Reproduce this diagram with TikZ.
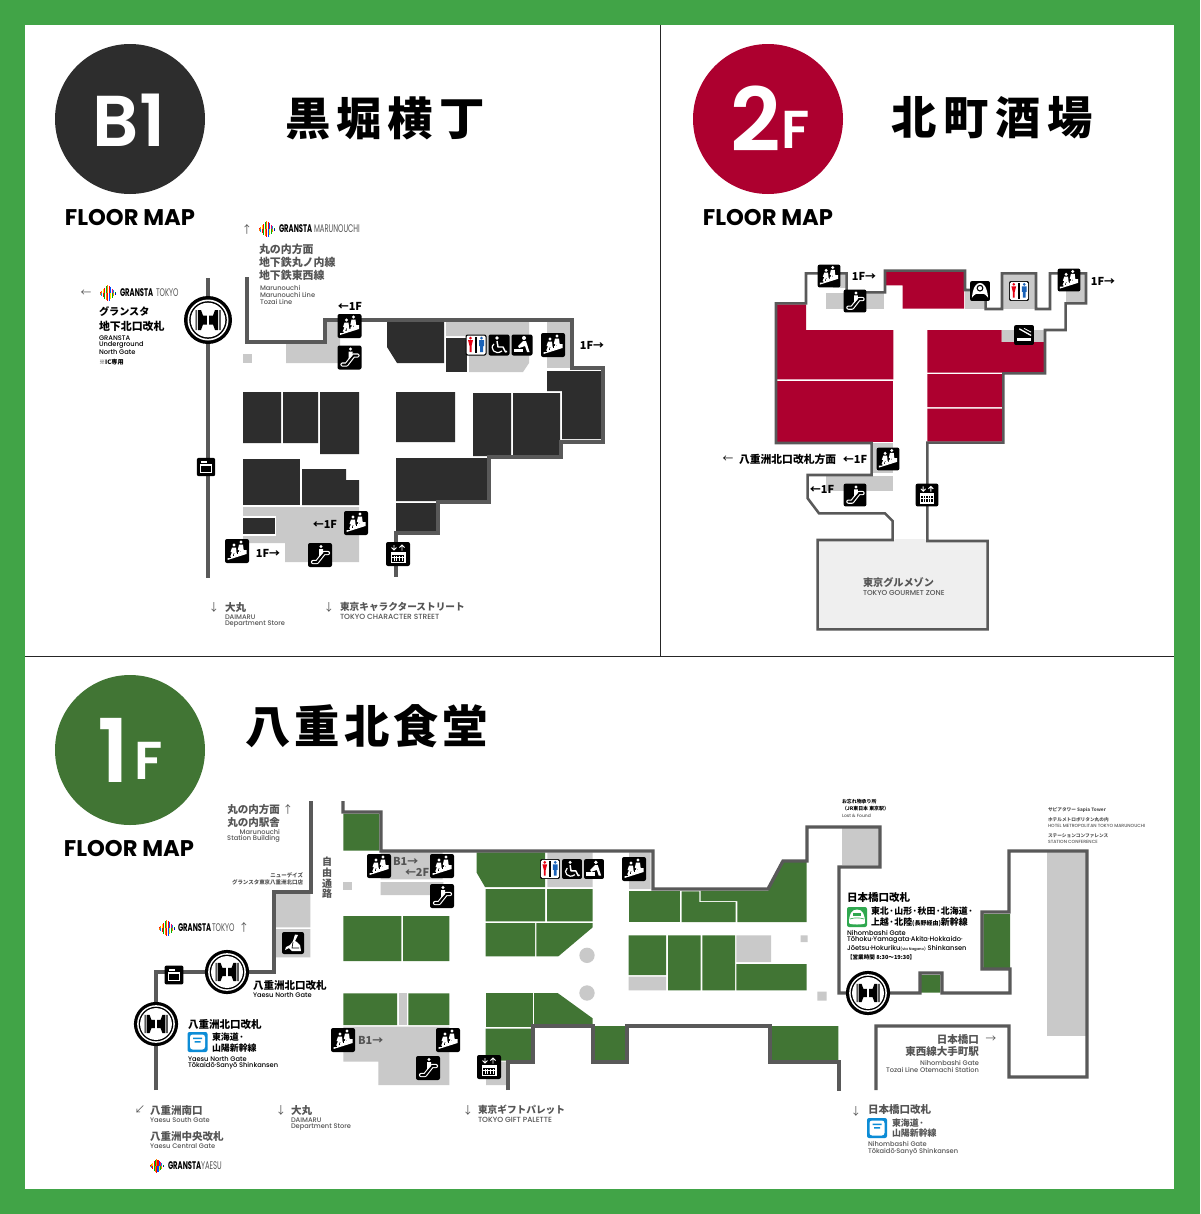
\documentclass[tikz,border=0pt]{standalone}
\usepackage{fontspec}
\setmainfont{Noto Sans CJK JP}
\newfontfamily\jp{Noto Sans CJK JP}
\newfontfamily\pop{Poppins}
\newfontfamily\popm{Poppins Medium}
\newfontfamily\pops{Poppins SemiBold}
\definecolor{bggreen}{HTML}{41A447}
\definecolor{gshop}{HTML}{417534}
\definecolor{rshop}{HTML}{AD002F}
\definecolor{dshop}{HTML}{2D2D2D}
\definecolor{gry}{HTML}{C9C9C9}
\definecolor{wallc}{HTML}{595959}
\definecolor{txtg}{HTML}{555555}
\definecolor{wcred}{HTML}{E60012}
\definecolor{wcblue}{HTML}{1A62B8}
\definecolor{trgreen}{HTML}{2FA84F}
\definecolor{trblue}{HTML}{0C8CD6}
\tikzset{
 wall/.style={draw=wallc,line width=2.5pt,miter limit=4},
 jl/.style={anchor=west,inner sep=0pt,outer sep=0pt,font=\jp\bfseries\fontsize{7.9}{7.9}\selectfont,text=black},
 jg/.style={jl,text=txtg},
 jr/.style={jl,anchor=east,text=txtg},
 kn/.style={jl,font=\jp\bfseries\fontsize{7.25}{7.25}\selectfont},
 kng/.style={kn,text=txtg},
 mid/.style={jl,font=\jp\bfseries\fontsize{6.7}{6.7}\selectfont},
 midg/.style={mid,text=txtg},
 sl/.style={anchor=west,inner sep=0pt,outer sep=0pt,font=\popm\fontsize{5}{5}\selectfont,text=black},
 sg/.style={sl,text=txtg},
 sr/.style={sl,anchor=east,text=txtg},
 caps/.style={sg,font=\popm\fontsize{5.6}{5.6}\selectfont},
 tn/.style={anchor=west,inner sep=0pt,outer sep=0pt,font=\jp\bfseries\fontsize{3.7}{3.7}\selectfont,text=black},
 tg/.style={tn,text=txtg},
 tl/.style={tn,text=txtg,font=\popm\fontsize{3.4}{3.4}\selectfont},
 lab/.style={anchor=center,inner sep=0pt,outer sep=0pt,font=\jp\bfseries\fontsize{8.2}{8.2}\selectfont,text=black},
 labg/.style={lab,text=txtg},
 arw/.style={anchor=center,inner sep=0pt,outer sep=0pt,font=\jp\fontsize{8}{8}\selectfont,text=txtg},
 ttl/.style={anchor=center,inner sep=0pt,outer sep=0pt,font=\jp\bfseries\fontsize{34}{34}\selectfont,text=black},
 fm/.style={anchor=center,inner sep=0pt,outer sep=0pt,font=\pop\bfseries\fontsize{17}{17}\selectfont,text=black},
 big/.style={anchor=center,inner sep=0pt,outer sep=0pt,text=white,font=\pops},
 gbold/.style={anchor=west,inner sep=0pt,outer sep=0pt,font=\pop\bfseries\fontsize{8.3}{8.3}\selectfont,text=black,xscale=.62},
 glite/.style={anchor=west,inner sep=0pt,outer sep=0pt,font=\pop\fontsize{8.3}{8.3}\selectfont,text=txtg,xscale=.62},
 iconbg/.style={fill=black,rounded corners=1.5pt},
 stairicon/.pic={
  \fill[iconbg] (-12,-12) rectangle (12,12);
  \fill[white] (-9.5,9) -- (-9.5,7) -- (-6,7) -- (-6,5) -- (-3,5) -- (-3,3) -- (1,3) -- (1,1) -- (4,1) -- (4,-1) -- (9.5,-1) -- (9.5,3) -- cycle;
  \fill[white] (-3,-6) circle (1.7) (4,-9) circle (1.7);
  \fill[white] (-5,-3.5) -- (-1,-3.5) -- (-.5,1) -- (.3,5) -- (-1.8,5) -- (-3,1.5) -- (-4.5,5.5) -- (-6.8,5.5) -- (-5,1) -- (-6.5,1) -- cycle;
  \fill[white] (2,-6.5) -- (6,-6.5) -- (6.5,-2) -- (7.5,2) -- (5.5,2) -- (4,-1) -- (3,3) -- (1,3) -- (2.5,-1) -- (.8,-1) -- cycle;
 },
 escicon/.pic={
  \fill[iconbg] (-12,-12) rectangle (12,12);
  \draw[white,line width=3.2pt,line cap=round,line join=round] (-7,7) -- (-3,7) -- (4,-2) -- (8,-2);
  \draw[black,line width=1.5pt,line cap=round,line join=round] (-7,7) -- (-3,7) -- (4,-2) -- (8,-2);
  \fill[white] (1,-8.5) circle (1.7);
  \fill[white] (-1,-6) -- (3,-6) -- (3,-2) -- (-1,2.5) -- cycle;
 },
 elevicon/.pic={
  \fill[iconbg] (-12,-12) rectangle (12,12);
  \draw[white,line width=.7pt] (-4,-9) -- (-4,-4) (-6.5,-6.5) -- (-4,-4) -- (-1.5,-6.5);
  \draw[white,line width=.7pt] (4,-3.5) -- (4,-9) (1.5,-6.5) -- (4,-9) -- (6.5,-6.5);
  \fill[white] (-7.5,-2.5) rectangle (7.5,9);
  \fill[black] (-6,1) rectangle (6,7.5);
  \foreach \q in {-4,-1.3,1.3,4}{\draw[white,line width=.7pt] (\q,1.5) -- (\q,7);}
  \draw[white,line width=.5pt] (-6,3) -- (6,3);
 },
 lockicon/.pic={
  \fill[iconbg] (-10.5,-10.5) rectangle (10.5,10.5);
  \fill[white] (-6,-7) rectangle (1,-5);
  \fill[white] (-7,-3.5) rectangle (7,7);
  \fill[black] (-5.5,-1) rectangle (5.5,5.5);
  \fill[white] (-2,-3.5) rectangle (2,-2);
 },
 wcicon/.pic={
  \fill[black,rounded corners=1.5pt] (-10.5,-10.5) rectangle (10.5,10.5);
  \fill[white,rounded corners=1pt] (-9.5,-9.5) rectangle (9.5,9.5);
  \fill[wcred] (-5.5,-7) circle (1.5) (-8,-5) -- (-3,-5) -- (-4.5,1) -- (-4.5,7) -- (-6.5,7) -- (-6.5,1) -- cycle;
  \fill[wcblue] (5.5,-7) circle (1.5) (3,-5) rectangle (8,1) (4,1) rectangle (7,7);
  \fill[black] (-.6,-8) rectangle (.6,8);
 },
 wheelicon/.pic={
  \fill[iconbg] (-10.5,-10.5) rectangle (10.5,10.5);
  \fill[white] (-2,-7) circle (1.8);
  \draw[white,line width=1.1pt,line join=round] (-2,-4) -- (-1,2) -- (4,2) -- (6.5,7) -- (8,6.3);
  \draw[white,line width=.9pt] (-5,-1) .. controls (-10,3) and (-4,11) .. (3,6);
 },
 babyicon/.pic={
  \fill[iconbg] (-10.5,-10.5) rectangle (10.5,10.5);
  \fill[white] (2,-7) circle (2);
  \fill[white] (1,-4) -- (4,-4) -- (7.5,7) -- (5,7) -- (3,1) -- (-3,3) -- (-4,1) -- cycle;
  \fill[white] (-8,3.5) rectangle (1,7);
 },
 smokeicon/.pic={
  \fill[iconbg] (-10.5,-10.5) rectangle (10.5,10.5);
  \fill[white] (-7.5,3) rectangle (7.5,6);
  \draw[white,line width=1pt] (-5,-6.5) -- (7.5,.5);
  \draw[white,line width=.6pt] (0,-7) -- (7.5,-3);
 },
 nurseicon/.pic={
  \fill[iconbg] (-10.5,-10.5) rectangle (10.5,10.5);
  \fill[white] (-8.5,7) .. controls (-7.5,-4) and (-4,-8.5) .. (0,-8.5) .. controls (4,-8.5) and (7.5,-4) .. (8.5,7) .. controls (5,2) and (3,3) .. (0,3) .. controls (-3,3) and (-5,2) .. (-8.5,7) -- cycle;
  \fill[black] (0,-3) circle (3.6);
  \fill[white] (0,-3) circle (2.2);
 },
 chairicon/.pic={
  \fill[iconbg] (-11,-11) rectangle (11,11);
  \fill[white] (2,-8.5) -- (5,-8) -- (2,-2) -- (4,-1) -- (7,2) -- (8,8) -- (-1,8) -- (-4,5) -- (-8,7) -- (-7,4) -- (-3,2) -- (0,-2) -- cycle;
  \draw[black,line width=.5pt] (0,-1) -- (-1,5) -- (6,5);
 },
 trblueicon/.pic={
  \fill[trblue,rounded corners=1.5pt] (-10,-10) rectangle (10,10);
  \fill[white,rounded corners=2pt] (-7.5,-7.5) rectangle (7.5,7.5);
  \fill[trblue] (-4.5,-4.5) rectangle (4.5,-3) (-3,-1) rectangle (3,.5);
 },
 trgreenicon/.pic={
  \fill[trgreen,rounded corners=1.5pt] (-10,-10) rectangle (10,10);
  \fill[white] (-8,6) .. controls (-8,-2) and (-6,-7.5) .. (0,-7.5) .. controls (6,-7.5) and (8,-2) .. (8,6) .. controls (8,8) and (-8,8) .. (-8,6) -- cycle;
  \fill[trgreen] (-4,-4) rectangle (4,-1.5);
  \draw[trgreen,line width=.5pt] (-7,2) .. controls (-3,.5) and (3,.5) .. (7,2);
 },
 gateicon/.pic={
  \fill[black] (0,0) circle (24);
  \fill[white] (0,0) circle (20.5);
  \fill[black] (0,0) circle (18.8);
  \fill[white] (0,0) circle (17.3);
  \fill[black] (-12.5,-10) rectangle (-11.3,10) (11.3,-10) rectangle (12.5,10);
  \fill[black] (-10.2,-10) -- (-7,-10) -- (-5,-4.5) -- (5,-4.5) -- (7,-10) -- (10.2,-10) -- (10.2,10) -- (7,10) -- (5,4.5) -- (-5,4.5) -- (-7,10) -- (-10.2,10) -- cycle;
  \fill[white] (-.9,-5) rectangle (.9,5);
 },
 logoicon/.pic={
  \foreach \q/\h/\c/\d in {-8.5/1.5/red/orange,-7/2.5/orange/cyan!80!blue,-5.5/4/yellow!90!orange/red,-4/5.5/red/green!70!black,-2.5/7/green!70!black/orange,-1/8/orange/red,.5/7.5/red/blue!70!cyan,2/6/blue!70!cyan/yellow!90!orange,3.5/4.5/magenta!70!red/green!70!black,5/3/cyan!80!blue/orange,6.5/1.5/green!60!black/blue!80!black}{
   \fill[\c] (\q,-\h) rectangle (\q+1.3,.4);
   \fill[\d] (\q,.4) rectangle (\q+1.3,\h);}
 }
}
\begin{document}
\begin{tikzpicture}[x=.75pt,y=-.75pt]
\useasboundingbox (0,0) rectangle (1200,1214);
\fill[bggreen] (0,0) rectangle (1200,1214);
\fill[white] (25,25) rectangle (1174,1189);
\draw[black!85,line width=.7pt] (660,25) -- (660,656) (25,656) -- (1174,656);
% ===== headers
\fill[dshop] (130,119) circle (75);
\fill[rshop] (768,119) circle (75);
\fill[gshop] (130,750) circle (75);
\node[big,font=\pops\fontsize{54}{54}\selectfont] (hb) at (129,120) {B1};
\node[big,font=\pops\fontsize{66}{66}\selectfont] (h2) at (756,119) {2};
\node[big,font=\pops\fontsize{40}{40}\selectfont] (h2f) at (796,130) {F};
\node[big,font=\pops\fontsize{66}{66}\selectfont] (h1) at (113,750) {1};
\node[big,font=\pops\fontsize{40}{40}\selectfont] (h1f) at (149,761) {F};
\node[fm] (fm1) at (130,218) {FLOOR MAP};
\node[fm] (fm2) at (768,218) {FLOOR MAP};
\node[fm] (fm3) at (129,848) {FLOOR MAP};
\node[ttl] (t1) at (385,118) {黒\hspace{4.5pt}堀\hspace{4.5pt}横\hspace{4.5pt}丁};
\node[ttl] (t2) at (992,118) {北\hspace{5pt}町\hspace{5pt}酒\hspace{5pt}場};
\node[ttl] (t3) at (367,726) {八\hspace{3pt}重\hspace{3pt}北\hspace{3pt}食\hspace{3pt}堂};
% ===== B1 plan
\fill[gry] (243,354) rectangle (252,363);
\fill[gry] (286,344) -- (327,344) -- (327,322) -- (340,322) -- (340,363) -- (286,363) -- cycle;
\fill[gry] (243,507) -- (359,507) -- (359,562) -- (285,562) -- (285,543) -- (243,543) -- cycle;
\fill[gry] (446,322) -- (529,322) -- (529,363) -- (523,372) -- (469,372) -- (469,336) -- (446,336) -- cycle;
\fill[gry] (547,322) rectangle (570,368);
\fill[dshop] (243,392) rectangle (281,443) (283,392) rectangle (318,443) (320,392) rectangle (359,454);
\fill[dshop] (243,459) rectangle (300,505);
\fill[dshop] (302,469) -- (346,469) -- (346,480) -- (359,480) -- (359,505) -- (302,505) -- cycle;
\fill[white] (243,516) rectangle (276,536);
\fill[dshop] (243,518) rectangle (275,534);
\fill[dshop] (387,322) -- (444,322) -- (444,363) -- (397,363) -- (387,347) -- cycle;
\fill[dshop] (446,338) rectangle (467,372);
\fill[dshop] (547,371) -- (602,371) -- (602,439) -- (562,439) -- (562,391) -- (547,391) -- cycle;
\fill[dshop] (396,392) rectangle (455,442) (473,393) rectangle (511,456) (513,393) rectangle (560,456);
\fill[dshop] (396,458) rectangle (488,501) (396,503) rectangle (437,532);
\draw[wall] (247,277) -- (247,342) -- (325,342) -- (325,320) -- (572,320) -- (572,368) -- (603,368) -- (603,442) -- (561,442) -- (561,457) -- (489,457) -- (489,502) -- (438,502) -- (438,533) -- (396,533) -- (396,577);
\draw[wall] (208,278) -- (208,578);
\pic at (208,320) {gateicon};
\pic[scale=.875] at (206,467) {lockicon};
\pic at (349.5,326) {stairicon};
\pic at (349.5,357.5) {escicon};
\pic at (476,345) {wcicon};
\pic at (499,345) {wheelicon};
\pic at (522,345) {babyicon};
\pic at (553,345) {stairicon};
\pic at (398,554) {elevicon};
\pic at (356,523) {stairicon};
\pic at (237,551) {stairicon};
\pic at (320,555) {escicon};
\node[lab] (b1a) at (350,306) {←1F};
\node[lab] (b1b) at (592,345) {1F→};
\node[lab] (b1c) at (325,524) {←1F};
\node[lab] (b1d) at (268,553) {1F→};
\node[arw] (b1e) at (247,229) {↑};
\pic at (267,229) {logoicon};
\node[gbold] (b1f) at (279,229) {GRANSTA};
\node[glite] (b1g) at (314,229) {MARUNOUCHI};
\node[jg,font=\jp\bfseries\fontsize{8.2}{8.2}\selectfont] (b1h) at (259,249) {丸の内方面};
\node[jg,font=\jp\bfseries\fontsize{8.2}{8.2}\selectfont] (b1i) at (259,262) {地下鉄丸ノ内線};
\node[jg,font=\jp\bfseries\fontsize{8.2}{8.2}\selectfont] (b1j) at (259,275) {地下鉄東西線};
\node[sg] (b1k) at (260,288) {Marunouchi};
\node[sg] (b1l) at (260,295) {Marunouchi Line};
\node[sg] (b1m) at (260,302) {Tozai Line};
\node[arw] (b1n) at (86,293) {←};
\pic at (108,293) {logoicon};
\node[gbold] (b1o) at (120,293) {GRANSTA};
\node[glite] (b1p) at (156,293) {TOKYO};
\node[jl,font=\jp\bfseries\fontsize{7.6}{7.6}\selectfont] (b1q) at (99,312) {グランスタ};
\node[jl,font=\jp\bfseries\fontsize{8.2}{8.2}\selectfont] (b1r) at (99,326) {地下北口改札};
\node[sl] (b1s) at (99,338) {GRANSTA};
\node[sl] (b1t) at (99,345) {Underground};
\node[sl] (b1u) at (99,352) {North Gate};
\node[tn,font=\jp\bfseries\fontsize{4.6}{4.6}\selectfont] (b1v) at (99,362) {※IC専用};
\node[arw] (b1w) at (214,607) {↓};
\node[jg] (b1x) at (225,607) {大丸};
\node[sg] (b1y) at (225,617) {DAIMARU};
\node[sg] (b1z) at (225,624) {Department Store};
\node[arw] (b1aa) at (329,607) {↓};
\node[kng] (b1ab) at (340,607) {東京キャラクターストリート};
\node[caps] (b1ac) at (340,617) {TOKYO CHARACTER STREET};
% ===== 2F plan
\begin{scope}[shift={(700,260)},x=.25pt,y=-.25pt]
\fill[gry!30] (353,840) rectangle (863,1108);
\fill[gry] (907,211) rectangle (1033,245);
\fill[gry] (378,98) rectangle (553,148);
\fill[gry] (400,42) rectangle (438,85);
\fill[gry] (795,88) rectangle (857,146);
\fill[gry] (908,42) rectangle (1006,146);
\fill[gry] (1097,42) rectangle (1157,128);
\fill[gry] (518,550) rectangle (580,640);
\fill[gry] (378,648) rectangle (580,693);
\fill[rshop] (230,133) -- (318,133) -- (318,210) -- (580,210) -- (580,358) -- (230,358) -- cycle;
\fill[rshop] (230,362) rectangle (580,547);
\fill[rshop] (682,210) -- (905,210) -- (905,246) -- (1032,246) -- (1032,338) -- (682,338) -- cycle;
\fill[rshop] (682,342) rectangle (908,441) (682,446) rectangle (908,545);
\fill[rshop] (557,35) -- (792,35) -- (792,146) -- (608,146) -- (608,76) -- (557,76) -- cycle;
\draw[wall,line width=1.9pt] (355,40) -- (318,40) -- (318,130) -- (228,130) -- (228,549) -- (515,549) -- (515,645) -- (323,645) -- (323,715) -- (357,760) -- (555,760) -- (578,783) -- (578,840) -- (353,840) -- (353,1108) -- (863,1108) -- (863,843) -- (682,843) -- (682,548) -- (910,548) -- (910,340) -- (1035,340) -- (1035,210) -- (1097,210) -- (1097,130) -- (1158,130) -- (1158,40) -- (1050,40) -- (1050,147) -- (1008,147) -- (1008,40) -- (906,40) -- (906,147) -- (857,147) -- (857,90) -- (795,90) -- (795,32) -- (555,32) -- (555,97) -- (440,97) -- (440,40) -- cycle;
\fill[gry!30] (585,836) rectangle (676,848);
\end{scope}
\pic[scale=.95] at (829,276) {stairicon};
\pic[scale=.95] at (855,301) {escicon};
\pic[scale=.95] at (980,291) {nurseicon};
\pic[scale=.95] at (1019,291) {wcicon};
\pic[scale=.95] at (1069,280) {stairicon};
\pic[scale=.95] at (1024,335) {smokeicon};
\pic[scale=.95] at (888,459) {stairicon};
\pic[scale=.95] at (855,495) {escicon};
\pic[scale=.95] at (927,495) {elevicon};
\node[lab] (f2a) at (864,276) {1F→};
\node[lab] (f2b) at (1103,281) {1F→};
\node[arw,text=black] (f2c) at (728,459) {←};
\node[jl,font=\jp\bfseries\fontsize{8.1}{8.1}\selectfont] (f2d) at (739,459) {八重洲北口改札方面};
\node[lab] (f2e) at (855,459) {←1F};
\node[lab] (f2f) at (822,489) {←1F};
\node[jg,font=\jp\bfseries\fontsize{7.6}{7.6}\selectfont] (f2g) at (863,583) {東京グルメゾン};
\node[caps,font=\popm\fontsize{5.4}{5.4}\selectfont] (f2h) at (863,593) {TOKYO GOURMET ZONE};
% ===== 1F plan
\begin{scope}[shift={(130,790)},x=.25pt,y=-.25pt]
\fill[gry] (752,185) rectangle (938,268) (752,276) rectangle (940,315);
\fill[gry] (640,275) rectangle (666,301);
\fill[gry] (438,309) rectangle (541,412) (438,417) rectangle (541,502);
\fill[gry] (807,610) rectangle (830,705);
\fill[gry] (640,710) -- (958,710) -- (958,885) -- (745,885) -- (745,815) -- (640,815) -- cycle;
\fill[gshop] (640,71) rectangle (748,182) (640,378) rectangle (814,513) (819,378) rectangle (958,513);
\fill[gshop] (640,610) rectangle (801,705) (835,610) rectangle (958,705);
\end{scope}
\begin{scope}[shift={(470,790)},x=.25pt,y=-.25pt]
\fill[gry] (232,187) rectangle (368,291) (477,187) rectangle (542,297) (48,815) rectangle (112,885);
\fill[gry] (992,436) rectangle (1013,456) (1042,605) rectangle (1070,632);
\fill[gry] (351,496) circle (23) (351,609) circle (23);
\fill[gry] (476,560) rectangle (588,601) (799,436) rectangle (903,516);
\fill[gry] (1115,115) rectangle (1227,225);
\fill[gshop] (20,187) -- (225,187) -- (225,291) -- (45,291) -- (20,248) -- cycle;
\fill[gshop] (47,297) rectangle (225,394) (231,297) rectangle (368,394) (47,399) rectangle (195,499);
\fill[gshop] (199,399) -- (368,399) -- (368,412) -- (265,499) -- (199,499) -- cycle;
\fill[gshop] (47,609) rectangle (188,711);
\fill[gshop] (192,609) -- (263,609) -- (368,685) -- (368,705) -- (192,705) -- cycle;
\fill[gshop] (47,716) rectangle (187,812) (373,708) rectangle (468,812);
\fill[gshop] (476,304) rectangle (630,396);
\fill[gshop] (635,304) -- (688,304) -- (688,336) -- (797,336) -- (797,396) -- (635,396) -- cycle;
\fill[gshop] (692,302) -- (895,302) -- (938,215) -- (1010,215) -- (1010,396) -- (802,396) -- (802,333) -- (692,333) -- cycle;
\fill[gshop] (476,436) rectangle (588,555) (594,436) rectangle (692,601) (697,436) rectangle (795,601);
\fill[gshop] (799,522) rectangle (1010,601) (905,708) rectangle (1105,812);
\end{scope}
\begin{scope}[shift={(830,790)},x=.25pt,y=-.25pt]
\fill[gshop] (460,372) rectangle (540,535) (273,555) rectangle (331,608);
\fill[gry] (652,187) rectangle (767,737);
\end{scope}
\draw[wall] (156,1090) -- (156,972) -- (274,972) -- (274,892) -- (311,892) -- (311,801);
\draw[wall] (343,801) -- (343,812) -- (381,812) -- (381,851) -- (653,851) -- (653,889) -- (768,889) -- (783,861) -- (807,861) -- (807,827) -- (880,827) -- (880,867) -- (839,867) -- (839,993) -- (920,993) -- (920,973) -- (942,973) -- (942,993) -- (1010,993) -- (1010,969) -- (982,969) -- (982,912) -- (1009,912) -- (1009,851) -- (1087,851) -- (1087,1077) -- (1009,1077) -- (1009,1026) -- (876,1026) -- (876,1090);
\draw[wall] (508,1090) -- (508,1062) -- (533,1062) -- (533,1026) -- (593,1026) -- (593,1062) -- (627,1062) -- (627,1026) -- (770,1026) -- (770,1062) -- (839,1062) -- (839,1091);
\pic[scale=.92] at (227,972) {gateicon};
\pic[scale=.92] at (156,1024) {gateicon};
\pic[scale=.92] at (868,993) {gateicon};
\pic at (379,866) {stairicon};
\pic at (442,866) {stairicon};
\pic at (442,896) {escicon};
\pic at (293,943) {chairicon};
\pic[scale=.9] at (174,975) {lockicon};
\pic at (343,1040) {stairicon};
\pic at (448,1040) {stairicon};
\pic at (428,1068) {escicon};
\pic[scale=.95] at (550,869) {wcicon};
\pic[scale=.95] at (572,869) {wheelicon};
\pic[scale=.95] at (594,869) {babyicon};
\pic at (634,869) {stairicon};
\pic at (489,1067) {elevicon};
\node[lab,anchor=west,text=txtg] (f1a) at (358,1040) {B1→};
\node[lab,anchor=west,text=txtg] (f1b) at (393,861) {B1→};
\node[lab,anchor=west,text=txtg] (f1c) at (405,872) {←2F};
\node[jr] (f1d) at (280,810) {丸の内方面};
\node[arw] (f1e) at (288,809) {↑};
\node[jr] (f1f) at (280,822) {丸の内駅舎};
\node[sr] (f1g) at (280,832) {Marunouchi};
\node[sr] (f1h) at (280,839) {Station Building};
\node[tn,anchor=east,text=txtg,font=\jp\bfseries\fontsize{4.1}{4.1}\selectfont] (f1i) at (303,875) {ニューデイズ};
\node[tn,anchor=east,text=txtg,font=\jp\bfseries\fontsize{4.1}{4.1}\selectfont] (f1j) at (303,882) {グランスタ東京八重洲北口店};
\node[labg,font=\jp\bfseries\fontsize{7.5}{7.5}\selectfont] (f1k) at (327,862) {自};
\node[labg,font=\jp\bfseries\fontsize{7.5}{7.5}\selectfont] (f1l) at (327,873) {由};
\node[labg,font=\jp\bfseries\fontsize{7.5}{7.5}\selectfont] (f1m) at (327,884) {通};
\node[labg,font=\jp\bfseries\fontsize{7.5}{7.5}\selectfont] (f1n) at (327,894) {路};
\pic at (167,928) {logoicon};
\node[gbold] (f1o) at (178,928) {GRANSTA};
\node[glite] (f1p) at (212,928) {TOKYO};
\node[arw] (f1q) at (244,927) {↑};
\node[jl] (f1r) at (253,985) {八重洲北口改札};
\node[sl] (f1s) at (253,995) {Yaesu North Gate};
\node[jl] (f1t) at (188,1024) {八重洲北口改札};
\pic at (197.5,1042) {trblueicon};
\node[mid] (f1u) at (212,1037) {東海道·};
\node[mid] (f1v) at (212,1048) {山陽新幹線};
\node[sl] (f1w) at (188,1059) {Yaesu North Gate};
\node[sl] (f1x) at (188,1066) {Tōkaidō·Sanyō Shinkansen};
\node[tn] (f1y) at (842,802) {お忘れ物承り所};
\node[tn] (f1z) at (842,809) {（JR東日本 東京駅）};
\node[tl] (f1aa) at (842,816) {Lost \& Found};
\node[tn,text=txtg,font=\jp\bfseries\fontsize{3.5}{3.5}\selectfont] (f1ab) at (1048,810) {サピアタワー Sapia Tower};
\node[tn,text=txtg,font=\jp\bfseries\fontsize{3.5}{3.5}\selectfont] (f1ac) at (1048,820) {ホテルメトロポリタン丸の内};
\node[tl] (f1ad) at (1048,826) {HOTEL METROPOLITAN TOKYO MARUNOUCHI};
\node[tn,text=txtg,font=\jp\bfseries\fontsize{3.5}{3.5}\selectfont] (f1ae) at (1048,836) {ステーションコンファレンス};
\node[tl] (f1af) at (1048,842) {STATION CONFERENCE};
\node[jl] (f1ag) at (847,898) {日本橋口改札};
\pic at (857,917) {trgreenicon};
\node[mid] (f1ah) at (871,911) {東北·山形·秋田·北海道·};
\node[mid] (f1ai) at (871,922) {上越·北陸{\fontsize{4.5}{4.5}\selectfont(長野経由)}新幹線};
\node[sl] (f1aj) at (847,933) {Nihombashi Gate};
\node[sl] (f1ak) at (847,940) {Tōhoku·Yamagata·Akita·Hokkaido·};
\node[sl] (f1al) at (847,948) {Jōetsu·Hokuriku{\fontsize{2.8}{2.8}\selectfont (via Nagano)} Shinkansen};
\node[tn,font=\jp\bfseries\fontsize{4.2}{4.2}\selectfont] (f1am) at (847,957) {【営業時間 8:30〜19:30】};
\node[jr] (f1an) at (979,1039) {日本橋口};
\node[arw] (f1ao) at (991,1039) {→};
\node[jr] (f1ap) at (979,1051) {東西線大手町駅};
\node[sr] (f1aq) at (979,1063) {Nihombashi Gate};
\node[sr] (f1ar) at (979,1070) {Tozai Line Otemachi Station};
\node[arw] (f1as) at (140,1110) {↙};
\node[jg] (f1at) at (150,1110) {八重洲南口};
\node[sg] (f1au) at (150,1120) {Yaesu South Gate};
\node[jg] (f1av) at (150,1136) {八重洲中央改札};
\node[sg] (f1aw) at (150,1146) {Yaesu Central Gate};
\pic[scale=.85] at (157,1166) {logoicon};
\node[gbold] (f1ax) at (168,1166) {GRANSTA};
\node[glite] (f1ay) at (201,1166) {YAESU};
\node[arw] (f1az) at (281,1110) {↓};
\node[jg] (f1ba) at (291,1110) {大丸};
\node[sg] (f1bb) at (291,1120) {DAIMARU};
\node[sg] (f1bc) at (291,1127) {Department Store};
\node[arw] (f1bd) at (468,1110) {↓};
\node[kng] (f1be) at (478,1110) {東京ギフトパレット};
\node[caps] (f1bf) at (478,1120) {TOKYO GIFT PALETTE};
\node[arw] (f1bg) at (856,1111) {↓};
\node[jg] (f1bh) at (868,1110) {日本橋口改札};
\pic at (877,1128) {trblueicon};
\node[midg] (f1bi) at (892,1123) {東海道·};
\node[midg] (f1bj) at (892,1133) {山陽新幹線};
\node[sg] (f1bk) at (868,1144) {Nihombashi Gate};
\node[sg] (f1bl) at (868,1152) {Tōkaidō·Sanyō Shinkansen};
\end{tikzpicture}
\end{document}
